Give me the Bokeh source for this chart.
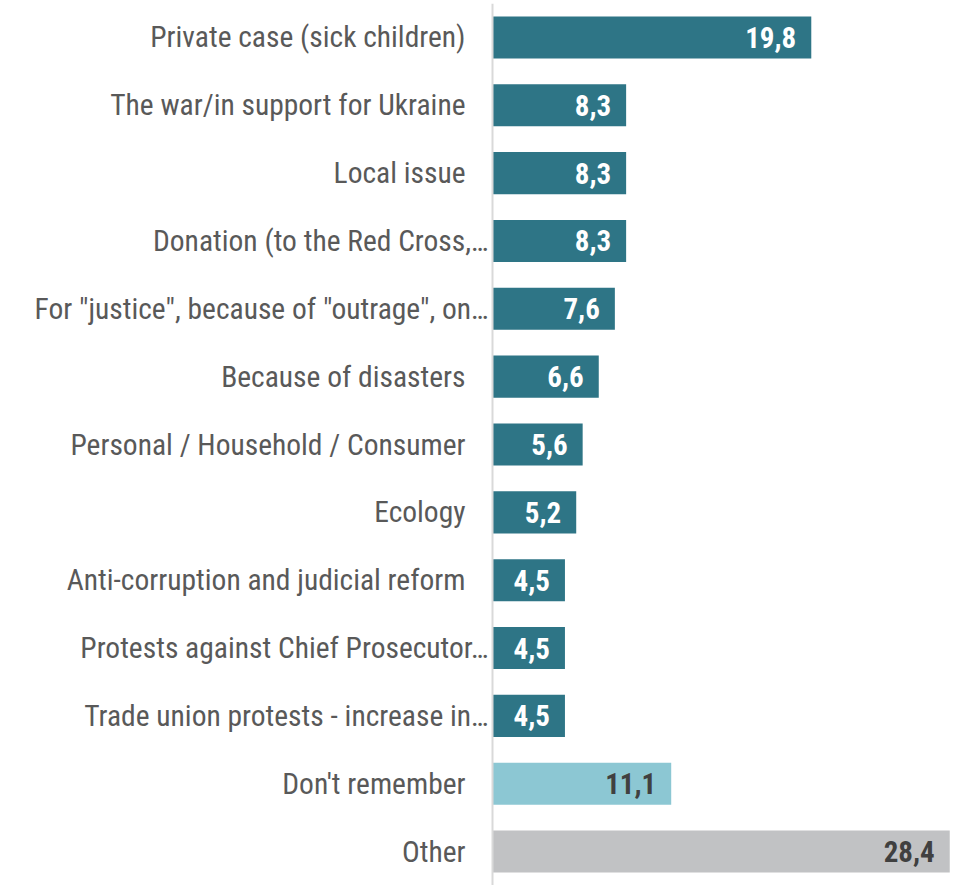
from bokeh.plotting import figure
from bokeh.models import ColumnDataSource, FactorRange, Range1d, Span
from bokeh.embed import file_html
from bokeh.resources import INLINE
from bokeh.core.properties import value

categories = [
    "Private case (sick children)",
    "The war/in support for Ukraine",
    "Local issue",
    "Donation (to the Red Cross,…",
    "For \"justice\", because of \"outrage\", on…",
    "Because of disasters",
    "Personal / Household / Consumer",
    "Ecology",
    "Anti-corruption and judicial reform",
    "Protests against Chief Prosecutor…",
    "Trade union protests - increase in…",
    "Don't remember",
    "Other",
]
values = [19.8, 8.3, 8.3, 8.3, 7.6, 6.6, 5.6, 5.2, 4.5, 4.5, 4.5, 11.1, 28.4]
kinds = ["main"] * 11 + ["dontknow", "other"]

bar_colors = {"main": "#2E7586", "dontknow": "#8CC7D3", "other": "#C1C2C4"}
value_colors = {"main": "#FFFFFF", "dontknow": "#404040", "other": "#404040"}

FONT = "Liberation Sans Narrow, Arial Narrow, Roboto Condensed, sans-serif"

src = ColumnDataSource(dict(
    cat=categories,
    val=values,
    zero=[0] * len(values),
    fill=[bar_colors[k] for k in kinds],
    vcol=[value_colors[k] for k in kinds],
    vlab=[f"{v:.1f}".replace(".", ",") for v in values],
    loff=[-4 if c.endswith("…") else -27 for c in categories],
))

px_per_unit = 16.1
W, H = 958, 885
axis_px = 492
p = figure(
    width=W, height=H,
    y_range=FactorRange(factors=categories[::-1], range_padding=0),
    x_range=Range1d(-axis_px / px_per_unit, (W - axis_px) / px_per_unit),
    output_backend="svg", toolbar_location=None,
    min_border_left=0, min_border_right=0, min_border_top=3, min_border_bottom=0,
)
p.outline_line_color = None
p.axis.visible = False
p.grid.visible = False
p.background_fill_color = "white"
p.border_fill_color = "white"

p.hbar(y="cat", left="zero", right="val", height=0.62, fill_color="fill",
       line_color=None, source=src)

p.add_layout(Span(location=0, dimension="height", line_color="#D9D9D9", line_width=2))

p.text(x="zero", y="cat", text="cat", x_offset="loff", text_align="right",
       text_baseline="middle", text_font=value(FONT), text_font_size="29.5px",
       text_color="#595959", source=src)

p.text(x="val", y="cat", text="vlab", x_offset=-15, text_align="right",
       text_baseline="middle", text_font=value(FONT), text_font_size="29px",
       text_font_style="bold", text_color="vcol", source=src)

open("out.html", "w").write(file_html(p, INLINE))
